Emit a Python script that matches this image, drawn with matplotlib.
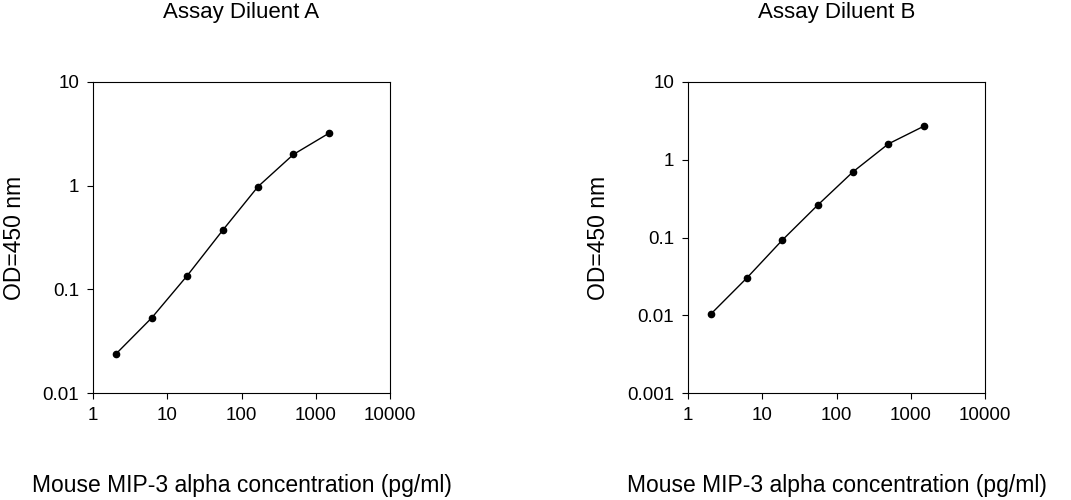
import matplotlib
matplotlib.use("Agg")
import matplotlib.pyplot as plt
from matplotlib.ticker import LogLocator, NullLocator, FuncFormatter

plt.rcParams['font.family'] = ['Liberation Sans', 'DejaVu Sans']

conc = [2.06, 6.17, 18.5, 55.6, 167, 500, 1500]
od_a = [0.024, 0.053, 0.135, 0.37, 0.98, 2.0, 3.2]
od_b = [0.0105, 0.030, 0.092, 0.26, 0.70, 1.6, 2.7]
titles = ['Assay Diluent A', 'Assay Diluent B']
ylims = [(0.01, 10), (0.001, 10)]

fig = plt.figure(figsize=(10.71, 5.0), dpi=100)
lefts = [93 / 1071, 688 / 1071]
fmt = FuncFormatter(lambda v, p: f"{v:g}")

for left, od, title, yl in zip(lefts, [od_a, od_b], titles, ylims):
    ax = fig.add_axes([left, 107 / 500, 297 / 1071, 311 / 500])
    ax.plot(conc, od, color='black', lw=1, marker='o', ms=4.5)
    ax.set_xscale('log')
    ax.set_yscale('log')
    ax.set_xlim(1, 10000)
    ax.set_ylim(*yl)
    ax.xaxis.set_major_locator(LogLocator(base=10))
    ax.yaxis.set_major_locator(LogLocator(base=10))
    ax.xaxis.set_minor_locator(NullLocator())
    ax.yaxis.set_minor_locator(NullLocator())
    ax.xaxis.set_major_formatter(fmt)
    ax.yaxis.set_major_formatter(fmt)
    ax.tick_params(labelsize=13.5, length=4, direction='out', pad=6)
    for s in ax.spines.values():
        s.set_linewidth(0.8)
    ax.set_ylabel('OD=450 nm', fontsize=16.5, labelpad=12)
    ax.set_xlabel('Mouse MIP-3 alpha concentration (pg/ml)', fontsize=16.5, labelpad=36)
    ax.set_title(title, fontsize=16, pad=46)

fig.savefig('out.png', dpi=100)
